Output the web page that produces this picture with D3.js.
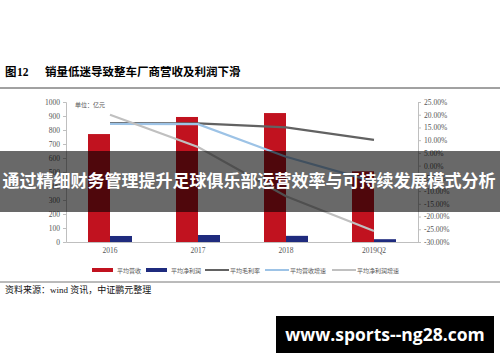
<!DOCTYPE html>
<html lang="zh">
  <head>
    <meta charset="UTF-8" />
    <title>图12 销量低迷导致整车厂商营收及利润下滑</title>
    <style>
      body { margin: 0; background: #fff; }
      svg { display: block; }
    </style>
  </head>
  <body>
    <svg width="500" height="362"></svg>

    <script src="https://d3js.org/d3.v7.min.js"></script>
    <script>
      // values (亿元 / %)
      const categories = ["2016", "2017", "2018", "2019Q2"];
      const revenue = [771, 893, 921, 505];
      const netProfit = [43, 50, 44, 20];
      const grossMargin = [16.7, 16.6, 15.0, 10.1];
      const revenueGrowth = [16.4, 16.3, 3.5, -6.3];
      const profitGrowth = [20.0, 7.3, -12.0, -25.7];
      const leftTicks = [0, 100, 200, 300, 400, 500, 600, 700, 800, 900, 1000];
      const rightTicks = [-30, -25, -20, -15, -10, -5, 0, 5, 10, 15, 20, 25];

      const colors = {
        revenue: "#c1121f",
        net: "#1f2b7e",
        margin: "#626262",
        revGrowth: "#9dc3e6",
        profGrowth: "#c0c0c0",
      };

      const svg = d3.select("svg");
      const cjk = "'Noto Sans CJK SC', 'Noto Sans', sans-serif";
      const serif = "'Liberation Serif', 'DejaVu Serif', serif";

      // title
      svg.append("text")
        .attr("x", 5).attr("y", 76)
        .style("font-family", cjk).style("font-size", "11.5px").style("font-weight", "bold")
        .text("图");
      svg.append("text")
        .attr("x", 17).attr("y", 76)
        .style("font-family", serif).style("font-size", "11.5px").style("font-weight", "bold")
        .text("12");
      svg.append("text")
        .attr("x", 45).attr("y", 76)
        .style("font-family", cjk).style("font-size", "11.5px").style("font-weight", "bold")
        .text("销量低迷导致整车厂商营收及利润下滑");
      svg.append("line")
        .attr("x1", 0).attr("x2", 500).attr("y1", 88).attr("y2", 88)
        .attr("stroke", "#444").attr("stroke-width", 1);

      const x = d3.scaleBand().domain(categories).range([66, 418]).paddingInner(0.5).paddingOuter(0.25);
      const yL = d3.scaleLinear().domain([0, 1000]).range([242, 102]);
      const yR = d3.scaleLinear().domain([-30, 25]).range([242, 102]);
      const half = x.bandwidth() / 2;

      // axes
      const axisL = svg.append("g").attr("transform", "translate(66,0)")
        .call(d3.axisLeft(yL).tickValues(leftTicks).tickSize(3).tickPadding(3)
          .tickFormat(d3.format("d")));
      const axisR = svg.append("g").attr("transform", "translate(418,0)")
        .call(d3.axisRight(yR).tickValues(rightTicks).tickSize(3).tickPadding(3)
          .tickFormat(d => d.toFixed(2) + "%"));
      const axisB = svg.append("g").attr("transform", "translate(0,242)")
        .call(d3.axisBottom(x).tickSize(0).tickPadding(6));
      [axisL, axisR, axisB].forEach(g => {
        g.selectAll("path, line").attr("stroke", "#bfbfbf");
        g.selectAll("text")
          .style("font-family", serif).style("font-size", "7.5px").attr("fill", "#555");
      });

      svg.append("text")
        .attr("x", 75).attr("y", 107)
        .style("font-family", cjk).style("font-size", "6px").attr("fill", "#555")
        .text("单位：亿元");

      // bars
      svg.selectAll(".rev").data(categories).join("rect")
        .attr("x", (d) => x(d))
        .attr("y", (d, i) => yL(revenue[i]))
        .attr("width", half)
        .attr("height", (d, i) => yL(0) - yL(revenue[i]))
        .attr("fill", colors.revenue);
      svg.selectAll(".net").data(categories).join("rect")
        .attr("x", (d) => x(d) + half)
        .attr("y", (d, i) => yL(netProfit[i]))
        .attr("width", half)
        .attr("height", (d, i) => yL(0) - yL(netProfit[i]))
        .attr("fill", colors.net);

      // lines
      const line = d3.line().x(d => x(d[0]) + half).y(d => yR(d[1]));
      const series = [
        [grossMargin, colors.margin],
        [revenueGrowth, colors.revGrowth],
        [profitGrowth, colors.profGrowth],
      ];
      series.forEach(([vals, c]) => {
        svg.append("path")
          .datum(categories.map((cat, i) => [cat, vals[i]]))
          .attr("d", line)
          .attr("fill", "none").attr("stroke", c).attr("stroke-width", 2.2);
      });

      // legend
      const legend = [
        ["平均营收", colors.revenue, "rect", 92],
        ["平均净利润", colors.net, "rect", 146],
        ["平均毛利率", colors.margin, "line", 205],
        ["平均营收增速", colors.revGrowth, "line", 265],
        ["平均净利润增速", colors.profGrowth, "line", 332],
      ];
      legend.forEach(([label, c, kind, lx]) => {
        if (kind === "rect") {
          svg.append("rect").attr("x", lx).attr("y", 268).attr("width", 21).attr("height", 4).attr("fill", c);
        } else {
          svg.append("line").attr("x1", lx).attr("x2", lx + 24).attr("y1", 270).attr("y2", 270)
            .attr("stroke", c).attr("stroke-width", 2);
        }
        svg.append("text")
          .attr("x", lx + 25).attr("y", 272.5)
          .style("font-family", cjk).style("font-size", "6px").attr("fill", "#555")
          .text(label);
      });

      // source
      svg.append("line")
        .attr("x1", 0).attr("x2", 500).attr("y1", 282).attr("y2", 282)
        .attr("stroke", "#777").attr("stroke-width", 1);
      const src = svg.append("text")
        .attr("x", 5).attr("y", 293)
        .style("font-family", cjk).style("font-size", "9px").attr("fill", "#111");
      src.append("tspan").text("资料来源：");
      src.append("tspan").style("font-family", serif).text("wind ");
      src.append("tspan").text("资讯，中证鹏元整理");

      // banner overlay
      svg.append("rect")
        .attr("x", 0).attr("y", 151).attr("width", 500).attr("height", 61)
        .attr("fill", "rgba(0,0,0,0.59)");
      svg.append("text")
        .attr("x", 249).attr("y", 187).attr("text-anchor", "middle")
        .style("font-family", cjk).style("font-size", "17px").style("font-weight", "bold")
        .attr("fill", "#fff")
        .text("通过精细财务管理提升足球俱乐部运营效率与可持续发展模式分析");

      // watermark
      svg.append("rect")
        .attr("x", 276).attr("y", 316).attr("width", 218).attr("height", 37)
        .attr("fill", "#000");
      svg.append("text")
        .attr("x", 385).attr("y", 340.5).attr("text-anchor", "middle")
        .style("font-family", "'Open Sans', 'DejaVu Sans', sans-serif").style("font-size", "17.5px").style("font-weight", "bold")
        .attr("fill", "#fff")
        .text("www.sports--ng28.com");
    </script>
  </body>
</html>
